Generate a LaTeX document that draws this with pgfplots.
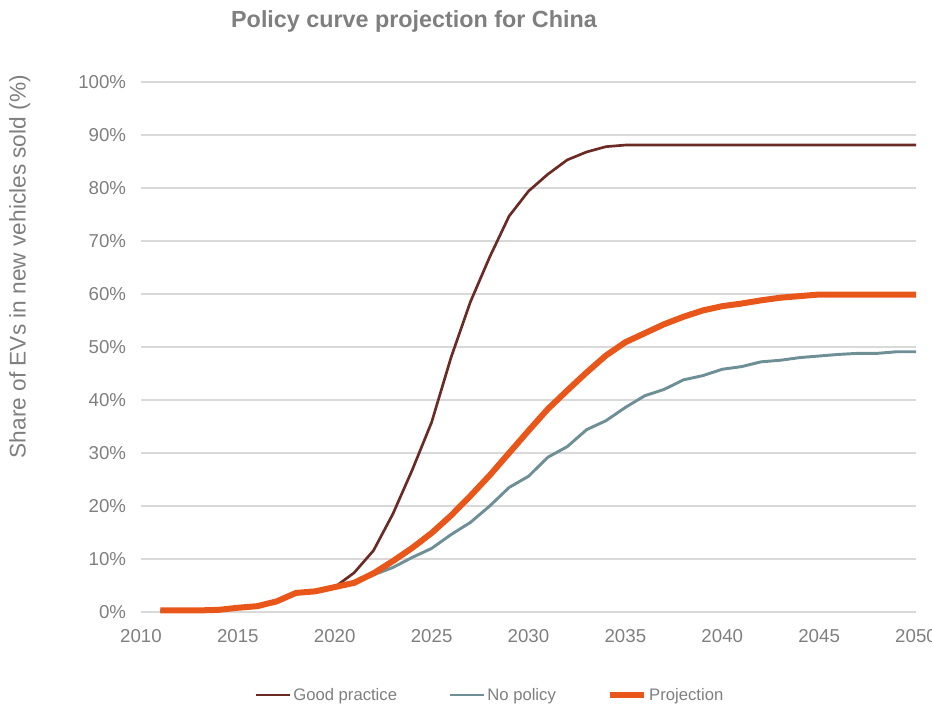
\documentclass[border=0pt]{standalone}
\usepackage{pgfplots}
\pgfplotsset{compat=1.18}
\usepackage{fontspec}
\setmainfont{Liberation Sans}

\definecolor{goodc}{HTML}{6B2A24}
\definecolor{nopolc}{HTML}{6F8F97}
\definecolor{projc}{HTML}{E8561A}
\definecolor{txtc}{HTML}{7F7F7F}
\definecolor{gridc}{HTML}{D9D9D9}

\begin{document}
\begin{tikzpicture}
\begin{axis}[
    at={(0,0)}, anchor=south west,
    scale only axis,
    width=581.25pt, height=397.5pt,
    xmin=2010, xmax=2050, ymin=0, ymax=100,
    xtick={2010,2015,...,2050},
    ytick={0,10,...,100},
    axis line style={draw=none},
    major tick length=0pt,
    ymajorgrids,
    grid style={gridc, line width=1.2pt},
    tick label style={text=txtc, font=\fontsize{14pt}{16pt}\selectfont},
    /pgf/number format/assume math mode=true,
    /pgf/number format/1000 sep={},
    yticklabel={\pgfmathprintnumber{\tick}\%},
    yticklabel style={anchor=east, inner sep=0pt, xshift=-11pt},
    xticklabel style={anchor=north, inner sep=0pt, yshift=-13pt},
    legend columns=3,
    legend style={at={(0.4503,-0.1566)}, anchor=center, draw=none, fill=none,
        text=txtc, font=\fontsize{12.5pt}{15pt}\selectfont,
        /tikz/every even column/.append style={column sep=37pt},
        nodes={inner sep=1.5pt}},
    legend image code/.code={\draw[#1] (0pt,0pt) -- (25.5pt,0pt);},
    clip=false,
]
% Good practice
\addplot[goodc, line width=2pt] coordinates {
(2011,0.2)(2012,0.2)(2013,0.2)(2014,0.3)(2015,0.8)(2016,1.1)(2017,2.0)(2018,3.5)(2019,3.8)(2020,4.7)
(2021,7.4)(2022,11.6)(2023,18.5)(2024,26.8)(2025,35.8)(2026,48.0)(2027,58.5)(2028,67.0)(2029,74.7)(2030,79.4)
(2031,82.6)(2032,85.3)(2033,86.8)(2034,87.8)(2035,88.1)(2036,88.1)(2037,88.1)(2038,88.1)(2039,88.1)(2040,88.1)
(2041,88.1)(2042,88.1)(2043,88.1)(2044,88.1)(2045,88.1)(2046,88.1)(2047,88.1)(2048,88.1)(2049,88.1)(2050,88.1)
};
% No policy
\addplot[nopolc, line width=2.2pt] coordinates {
(2011,0.2)(2012,0.2)(2013,0.2)(2014,0.3)(2015,0.8)(2016,1.1)(2017,2.0)(2018,3.5)(2019,3.8)(2020,4.7)
(2021,5.5)(2022,7.0)(2023,8.4)(2024,10.3)(2025,12.0)(2026,14.6)(2027,16.9)(2028,20.0)(2029,23.5)(2030,25.6)
(2031,29.2)(2032,31.2)(2033,34.4)(2034,36.1)(2035,38.6)(2036,40.8)(2037,42.0)(2038,43.8)(2039,44.6)(2040,45.8)
(2041,46.3)(2042,47.2)(2043,47.5)(2044,48.0)(2045,48.3)(2046,48.6)(2047,48.8)(2048,48.8)(2049,49.1)(2050,49.1)
};
% Projection
\addplot[projc, line width=4.5pt] coordinates {
(2011,0.3)(2012,0.3)(2013,0.3)(2014,0.4)(2015,0.8)(2016,1.1)(2017,2.0)(2018,3.6)(2019,3.9)(2020,4.7)
(2021,5.5)(2022,7.3)(2023,9.6)(2024,12.1)(2025,14.9)(2026,18.2)(2027,21.9)(2028,25.8)(2029,30.0)(2030,34.2)
(2031,38.3)(2032,41.8)(2033,45.2)(2034,48.4)(2035,50.9)(2036,52.6)(2037,54.3)(2038,55.7)(2039,56.9)(2040,57.7)
(2041,58.2)(2042,58.8)(2043,59.3)(2044,59.6)(2045,59.9)(2046,59.9)(2047,59.9)(2048,59.9)(2049,59.9)(2050,59.9)
};
\legend{Good practice, No policy, Projection}
\end{axis}
\node[text=txtc, font=\fontsize{17.5pt}{20pt}\selectfont\bfseries] at (204.75pt,443pt) {Policy curve projection for China};
\node[text=txtc, rotate=90, font=\fontsize{17pt}{20pt}\selectfont] at (-91pt,259pt) {Share of EVs in new vehicles sold (\%)};
\pgfresetboundingbox
\path[use as bounding box] (-105.75pt,-70.5pt) rectangle ++(699pt,529.5pt);
\end{tikzpicture}
\end{document}
